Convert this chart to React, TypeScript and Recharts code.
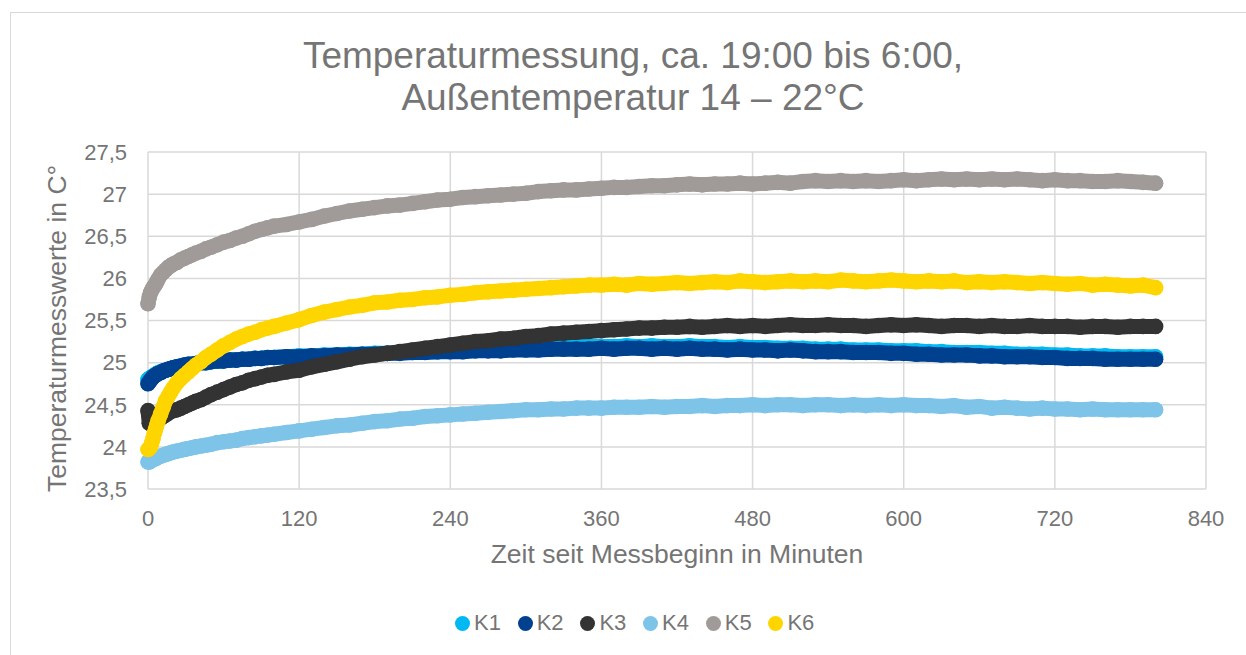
import { CartesianGrid, Label, Scatter, ScatterChart, XAxis, YAxis } from "recharts";

// Messzeitpunkte in Minuten seit Messbeginn
const minutes = [
  0, 1, 2, 3, 4, 5, 6, 7, 8, 10, 12, 14, 16, 18, 20, 23, 26, 29, 32, 35, 38, 42, 46, 50, 55, 60, 65, 70, 75, 80, 85, 90, 95,
  100, 110, 120, 130, 140, 150, 160, 170, 180, 190,
  200, 210, 220, 230, 240, 250, 260, 270, 280, 290,
  300, 310, 320, 330, 340, 350, 360, 370, 380, 390,
  400, 410, 420, 430, 440, 450, 460, 470, 480, 490,
  500, 510, 520, 530, 540, 550, 560, 570, 580, 590,
  600, 610, 620, 630, 640, 650, 660, 670, 680, 690,
  700, 710, 720, 730, 740, 750, 760, 770, 780, 790,
  800,
];

const k1 = [
  24.8, 24.81, 24.82, 24.83, 24.84, 24.85, 24.86, 24.87, 24.88, 24.89, 24.9, 24.91, 24.92, 24.93, 24.94, 24.95, 24.96,
  24.97, 24.98, 24.98, 24.99, 25.0, 25.0, 25.01, 25.02, 25.02, 25.03, 25.03, 25.04, 25.04, 25.05, 25.05, 25.06,
  25.06, 25.07, 25.08, 25.08, 25.09, 25.09, 25.1, 25.1, 25.11, 25.11,
  25.12, 25.12, 25.13, 25.13, 25.14, 25.14, 25.15, 25.15, 25.16, 25.16,
  25.17, 25.17, 25.18, 25.18, 25.19, 25.19, 25.19, 25.19, 25.2, 25.19,
  25.2, 25.19, 25.19, 25.2, 25.19, 25.19, 25.18, 25.19, 25.18, 25.18,
  25.17, 25.17, 25.17, 25.16, 25.16, 25.16, 25.15, 25.15, 25.15, 25.14,
  25.14, 25.14, 25.13, 25.13, 25.12, 25.12, 25.12, 25.11, 25.11, 25.1,
  25.1, 25.1, 25.09, 25.09, 25.08, 25.08, 25.08, 25.07, 25.07, 25.07,
  25.07,
];

const k2 = [
  24.75, 24.77, 24.79, 24.81, 24.83, 24.84, 24.85, 24.86, 24.87, 24.88, 24.9, 24.91, 24.92, 24.93, 24.94, 24.95, 24.96,
  24.97, 24.98, 24.98, 24.99, 25.0, 25.0, 25.01, 25.02, 25.02, 25.03, 25.03, 25.04, 25.04, 25.05, 25.05, 25.06,
  25.06, 25.07, 25.07, 25.08, 25.08, 25.09, 25.09, 25.1, 25.1, 25.11,
  25.11, 25.12, 25.12, 25.13, 25.13, 25.13, 25.14, 25.14, 25.14, 25.15,
  25.15, 25.15, 25.16, 25.16, 25.16, 25.16, 25.17, 25.16, 25.17, 25.17,
  25.16, 25.17, 25.16, 25.17, 25.16, 25.16, 25.15, 25.16, 25.15, 25.15,
  25.14, 25.15, 25.14, 25.13, 25.13, 25.13, 25.12, 25.12, 25.12, 25.11,
  25.11, 25.1, 25.1, 25.09, 25.09, 25.09, 25.08, 25.08, 25.07, 25.07,
  25.07, 25.06, 25.06, 25.05, 25.05, 25.05, 25.04, 25.04, 25.04, 25.04,
  25.04,
];

const k3 = [
  24.43, 24.28, 24.28, 24.29, 24.3, 24.3, 24.31, 24.32, 24.33, 24.34, 24.36, 24.38, 24.4, 24.42, 24.43, 24.44, 24.46,
  24.48, 24.5, 24.52, 24.54, 24.56, 24.59, 24.62, 24.65, 24.68, 24.71, 24.74, 24.76, 24.79, 24.81, 24.83, 24.85,
  24.86, 24.89, 24.91, 24.95, 24.98, 25.01, 25.04, 25.07, 25.09, 25.11,
  25.13, 25.15, 25.17, 25.19, 25.21, 25.23, 25.25, 25.26, 25.28, 25.29,
  25.31, 25.32, 25.34, 25.35, 25.36, 25.37, 25.38, 25.39, 25.4, 25.41,
  25.41, 25.42, 25.42, 25.43, 25.42, 25.43, 25.44, 25.43, 25.44, 25.43,
  25.44, 25.45, 25.44, 25.44, 25.45, 25.44, 25.44, 25.43, 25.44, 25.45,
  25.44, 25.45, 25.44, 25.43, 25.44, 25.44, 25.43, 25.44, 25.43, 25.43,
  25.44, 25.43, 25.43, 25.43, 25.42, 25.43, 25.43, 25.42, 25.43, 25.43,
  25.43,
];

const k4 = [
  23.82, 23.82, 23.83, 23.84, 23.85, 23.86, 23.86, 23.87, 23.88, 23.89, 23.9, 23.91, 23.92, 23.93, 23.94, 23.95, 23.96,
  23.97, 23.98, 23.99, 24.0, 24.01, 24.02, 24.03, 24.05, 24.06, 24.07, 24.08, 24.1, 24.11, 24.12, 24.13, 24.14,
  24.15, 24.17, 24.19, 24.21, 24.23, 24.25, 24.26, 24.28, 24.3, 24.31,
  24.33, 24.34, 24.36, 24.37, 24.38, 24.39, 24.4, 24.41, 24.42, 24.43,
  24.44, 24.44, 24.45, 24.45, 24.46, 24.46, 24.46, 24.47, 24.47, 24.47,
  24.48, 24.47, 24.48, 24.48, 24.49, 24.48, 24.49, 24.49, 24.5, 24.49,
  24.5, 24.5, 24.49, 24.5, 24.5, 24.49, 24.5, 24.49, 24.5, 24.49,
  24.5, 24.49, 24.49, 24.48, 24.49, 24.47, 24.48, 24.46, 24.47, 24.46,
  24.45, 24.46, 24.45, 24.45, 24.44, 24.45, 24.44, 24.44, 24.44, 24.44,
  24.44,
];

const k5 = [
  25.7, 25.78, 25.83, 25.86, 25.89, 25.91, 25.93, 25.96, 25.99, 26.04, 26.07, 26.1, 26.13, 26.15, 26.17, 26.19, 26.22,
  26.24, 26.26, 26.28, 26.3, 26.32, 26.35, 26.37, 26.4, 26.43, 26.45, 26.48, 26.5, 26.53, 26.56, 26.58, 26.6,
  26.62, 26.64, 26.67, 26.7, 26.74, 26.77, 26.8, 26.82, 26.84, 26.86,
  26.87, 26.89, 26.91, 26.93, 26.94, 26.96, 26.97, 26.98, 26.99, 27.0,
  27.01, 27.03, 27.04, 27.05, 27.05, 27.06, 27.07, 27.08, 27.08, 27.09,
  27.1, 27.1, 27.11, 27.12, 27.11, 27.12, 27.12, 27.13, 27.12, 27.13,
  27.14, 27.13, 27.15, 27.16, 27.15, 27.16, 27.15, 27.16, 27.15, 27.16,
  27.17, 27.16, 27.17, 27.18, 27.17, 27.18, 27.17, 27.18, 27.17, 27.18,
  27.17, 27.16, 27.17, 27.16, 27.16, 27.15, 27.15, 27.16, 27.15, 27.14,
  27.13,
];

const k6 = [
  23.97, 23.98, 24.0, 24.05, 24.1, 24.16, 24.21, 24.26, 24.31, 24.39, 24.47, 24.55, 24.6, 24.65, 24.7, 24.76, 24.81,
  24.85, 24.89, 24.93, 24.97, 25.01, 25.06, 25.1, 25.15, 25.2, 25.24, 25.28, 25.31, 25.34, 25.36, 25.39, 25.41,
  25.43, 25.47, 25.51, 25.56, 25.6, 25.63, 25.66, 25.68, 25.71, 25.72,
  25.74, 25.75, 25.77, 25.78, 25.8, 25.81, 25.83, 25.84, 25.85, 25.86,
  25.87, 25.88, 25.89, 25.9, 25.91, 25.92, 25.92, 25.93, 25.92, 25.94,
  25.93, 25.94, 25.95, 25.94, 25.95, 25.96, 25.95, 25.97, 25.96, 25.95,
  25.96, 25.97, 25.96, 25.97, 25.96, 25.98, 25.97, 25.96, 25.97, 25.98,
  25.97, 25.96, 25.97, 25.96, 25.97, 25.95, 25.96, 25.95, 25.96, 25.95,
  25.94, 25.95, 25.94, 25.93, 25.94, 25.92, 25.93, 25.92, 25.91, 25.92,
  25.89,
];

const seriesNames = ["K1", "K2", "K3", "K4", "K5", "K6"];
const seriesValues = [k1, k2, k3, k4, k5, k6];
const seriesColors = ["#00B9F2", "#00418F", "#333333", "#7EC4E8", "#A09B98", "#FFD500"];

const xTicks = [0, 120, 240, 360, 480, 600, 720, 840];
const yTicks = [23.5, 24, 24.5, 25, 25.5, 26, 26.5, 27, 27.5];

const FONT = '"Liberation Sans", Arial, sans-serif';
const TEXT = "#757575";
const GRID = "#d9d9d9";

function Marker(props: any) {
  const { cx, cy, fill } = props;
  if (cx == null || cy == null) return null;
  return <circle cx={cx} cy={cy} r={7.8} fill={fill} />;
}

// rotated y axis title, a bit below the plot centre like the original
function YTitle(props: any) {
  const { x, y, height } = props.viewBox;
  const cx = x + 49;
  const cy = y + height / 2 + 8;
  return (
    <text
      x={cx}
      y={cy}
      dy="0.355em"
      transform={`rotate(-90, ${cx}, ${cy})`}
      textAnchor="middle"
      fill={TEXT}
      fontSize={26.5}
      fontFamily={FONT}
    >
      Temperaturmesswerte in C°
    </text>
  );
}

const germanNumber = (value: number) => String(value).replace(".", ",");

export default function App() {
  const series = seriesNames.map((name, i) => ({
    name,
    color: seriesColors[i],
    data: minutes.map((t, j) => ({ t, v: seriesValues[i][j] })),
  }));

  return (
    <div style={{ position: "fixed", left: 0, top: 0, width: 1246, height: 655, background: "#fff", fontFamily: FONT }}>
      <div
        style={{
          position: "absolute",
          left: 10,
          top: 12,
          right: 0,
          bottom: 0,
          borderTop: `1px solid ${GRID}`,
          borderLeft: `1px solid ${GRID}`,
        }}
      />
      <div
        style={{
          position: "absolute",
          left: 0,
          top: 35,
          width: 1266,
          textAlign: "center",
          fontSize: 37,
          lineHeight: "42px",
          color: TEXT,
        }}
      >
        Temperaturmessung, ca. 19:00 bis 6:00,
        <br />
        Außentemperatur 14 – 22°C
      </div>

      <div style={{ position: "absolute", left: 0, top: 0 }}>
        <ScatterChart width={1246} height={655} margin={{ top: 152, right: 40, bottom: 86, left: 8 }}>
          <CartesianGrid stroke={GRID} strokeWidth={1.5} />
          <XAxis
            type="number"
            dataKey="t"
            domain={[0, 840]}
            ticks={xTicks}
            axisLine={false}
            tickLine={false}
            tickSize={0}
            tickMargin={21}
            height={80}
            tick={{ fontSize: 22, fill: TEXT, fontFamily: FONT }}
            label={{
              value: "Zeit seit Messbeginn in Minuten",
              position: "insideBottom",
              offset: 6,
              fill: TEXT,
              fontSize: 26.5,
              fontFamily: FONT,
            }}
          />
          <YAxis
            type="number"
            dataKey="v"
            domain={[23.5, 27.5]}
            ticks={yTicks}
            axisLine={false}
            tickLine={false}
            tickSize={0}
            tickMargin={21}
            width={140}
            tickFormatter={germanNumber}
            tick={{ fontSize: 22, fill: TEXT, fontFamily: FONT }}
          >
            <Label content={<YTitle />} />
          </YAxis>
          {series.map((s) => (
            <Scatter
              key={s.name}
              name={s.name}
              data={s.data}
              fill={s.color}
              line={{ stroke: s.color, strokeWidth: 15, strokeLinecap: "round", strokeLinejoin: "round" }}
              shape={<Marker />}
              isAnimationActive={false}
            />
          ))}
        </ScatterChart>
      </div>

      <div style={{ position: "absolute", left: 455, top: 611, display: "flex", height: 24, alignItems: "center" }}>
        {series.map((s) => (
          <div key={s.name} style={{ width: 62.7, display: "flex", alignItems: "center" }}>
            <span
              style={{ width: 15, height: 15, borderRadius: "50%", background: s.color, marginRight: 4, flexShrink: 0 }}
            />
            <span style={{ fontSize: 22, color: TEXT, lineHeight: "24px" }}>{s.name}</span>
          </div>
        ))}
      </div>
    </div>
  );
}
